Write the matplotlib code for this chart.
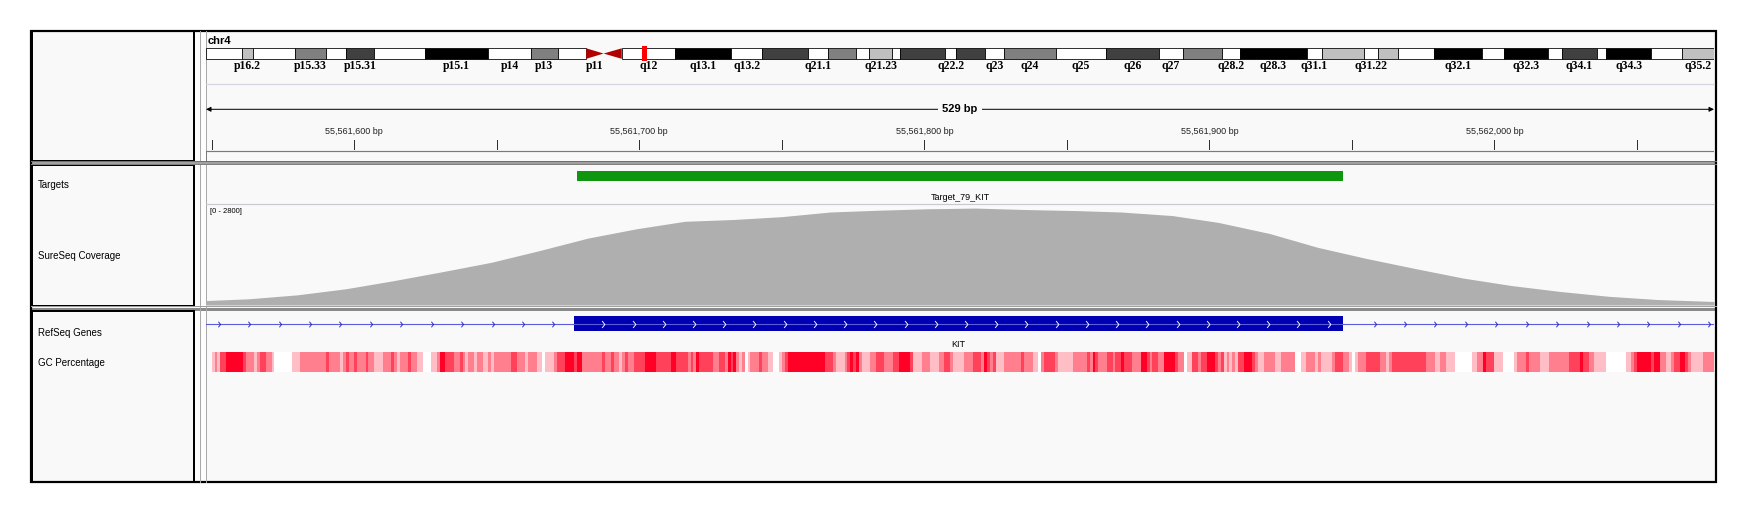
import matplotlib
matplotlib.use('Agg')
import matplotlib.pyplot as plt
from matplotlib.patches import Rectangle, Polygon
from matplotlib.path import Path
import numpy as np

plt.rcParams['font.family'] = ['Liberation Sans', 'DejaVu Sans']

W, H = 1751, 513
PX = 0.72          # one pixel in points at dpi 100
DX0, DX1 = 206, 1714   # data panel, pixels

# ---- data -------------------------------------------------------------
chrom = 'chr4'
chrom_length = 191.154276   # Mb (hg19)
view_start = 55561548
view_end = 55562077

band_names = ['p16.3', 'p16.2', 'p16.1', 'p15.33', 'p15.32', 'p15.31', 'p15.2', 'p15.1',
              'p14', 'p13', 'p12', 'p11', 'q11', 'q12', 'q13.1', 'q13.2', 'q13.3', 'q21.1',
              'q21.21', 'q21.22', 'q21.23', 'q21.3', 'q22.1', 'q22.2', 'q22.3', 'q23', 'q24',
              'q25', 'q26', 'q27', 'q28.1', 'q28.2', 'q28.3', 'q31.1', 'q31.21', 'q31.22',
              'q31.23', 'q31.3', 'q32.1', 'q32.2', 'q32.3', 'q33', 'q34.1', 'q34.2', 'q34.3',
              'q35.1', 'q35.2']
band_starts = [0.0, 4.5, 6.0, 11.3, 15.2, 17.8, 21.3, 27.7, 35.8, 41.2, 44.6, 48.2, 50.4,
               52.7, 59.5, 66.6, 70.5, 76.3, 78.9, 82.4, 84.1, 86.9, 88.0, 93.7, 95.1, 98.8,
               101.1, 107.7, 114.1, 120.8, 123.8, 128.8, 131.1, 139.5, 141.5, 146.8, 148.5,
               151.1, 155.6, 161.8, 164.5, 170.1, 171.9, 176.3, 177.5, 183.2, 187.1]
band_stains = ['gneg', 'gpos25', 'gneg', 'gpos50', 'gneg', 'gpos75', 'gneg', 'gpos100',
               'gneg', 'gpos50', 'gneg', 'acen', 'acen', 'gneg', 'gpos100', 'gneg', 'gpos75',
               'gneg', 'gpos50', 'gneg', 'gpos25', 'gneg', 'gpos75', 'gneg', 'gpos75', 'gneg',
               'gpos50', 'gneg', 'gpos75', 'gneg', 'gpos50', 'gneg', 'gpos100', 'gneg',
               'gpos25', 'gneg', 'gpos25', 'gneg', 'gpos100', 'gneg', 'gpos100', 'gneg',
               'gpos75', 'gneg', 'gpos100', 'gneg', 'gpos25']
shown_bands = ['p16.2', 'p15.33', 'p15.31', 'p15.1', 'p14', 'p13', 'p11', 'q12', 'q13.1',
               'q13.2', 'q21.1', 'q21.23', 'q22.2', 'q23', 'q24', 'q25', 'q26', 'q27', 'q28.2',
               'q28.3', 'q31.1', 'q31.22', 'q32.1', 'q32.3', 'q34.1', 'q34.3', 'q35.2']

track_names = ['Targets', 'SureSeq Coverage', 'RefSeq Genes', 'GC Percentage']

target_name = 'Target_79_KIT'
target_start, target_end = 55561678, 55561947

gene_name = 'KIT'
exon_start, exon_end = 55561677, 55561947

coverage_max = 2800
coverage_offsets = [0, 15, 32, 49, 66, 83, 100, 117, 134, 151, 168, 185, 202, 219, 236, 253,
                    270, 287, 305, 321, 339, 355, 373, 390, 407, 424, 441, 458, 475, 492, 509, 529]
coverage_values = [110, 160, 270, 440, 670, 920, 1180, 1510, 1860, 2120, 2330, 2380, 2460,
                   2590, 2640, 2680, 2700, 2660, 2630, 2590, 2490, 2300, 1990, 1600, 1290,
                   1010, 740, 530, 365, 230, 140, 84]

# GC percentage bins: start offset from view_start, shade level (0 = no value)
gc_offsets = [2, 3, 4, 5, 7, 13, 14, 17, 18, 19, 21, 23, 24, 30, 33, 42, 43, 47, 48, 49, 50,
              52, 53, 56, 57, 59, 62, 65, 66, 67, 68, 71, 72, 74, 76, 79, 81, 82, 84, 87, 89,
              90, 91, 92, 94, 95, 97, 99, 100, 101, 107, 109, 112, 113, 116, 118, 119, 122,
              123, 126, 129, 130, 132, 139, 140, 142, 143, 145, 146, 147, 148, 150, 154, 158,
              163, 165, 169, 170, 171, 172, 173,
              178, 180, 182, 183, 184, 185, 186, 187, 188, 189, 190, 191, 194, 195, 197, 199,
              201, 202, 203, 204, 217, 220, 221, 224, 225, 226, 227, 228, 229, 230, 233, 235,
              238, 241, 243, 247, 248, 251, 254, 257, 259, 261, 262, 266, 269, 272, 273, 274,
              275, 276, 277, 280, 286, 287, 290, 292, 293, 294, 298, 299, 304, 309, 310, 311,
              312, 313, 316, 318, 319, 321, 322, 325, 328, 330, 331, 332, 334, 336, 340, 341,
              343, 344, 346, 348, 349, 351,
              354, 355, 356, 357, 358, 359, 360, 361, 362, 364, 367, 368, 369, 371, 375, 377,
              382, 384, 386, 389, 390, 391, 395, 396, 399, 401, 402, 403, 404, 407, 412, 414,
              415, 416, 428, 431, 433, 435, 438, 444, 446, 448, 449, 452, 455, 459, 460, 463,
              464, 468, 471, 478, 482, 483, 485, 487, 491, 498, 500, 501, 502, 507, 508, 510,
              512, 514, 515, 517, 519, 520, 521, 525, 529]
gc_levels = [1, 2, 1, 3, 4, 3, 2, 1, 2, 3, 2, 1, 0, 1, 2, 3, 2, 1, 2, 3, 2,
             3, 2, 3, 2, 1, 2, 3, 2, 1, 2, 3, 2, 1, 0, 1, 2, 4, 3, 2, 3,
             2, 1, 2, 1, 2, 1, 2, 1, 2, 3, 2, 1, 2, 1, 0, 1, 2,
             3, 4, 3, 4, 2, 3, 2, 3, 2, 1, 2, 3, 2, 3, 4, 3,
             4, 3, 2, 3, 2, 4, 3,
             2, 3, 2, 4, 3, 4, 2, 1, 2, 0, 1, 2, 3, 2, 1, 0,
             1, 2, 3, 4, 3, 2, 1, 2, 3, 4, 3, 4, 2, 1, 2, 3,
             2, 3, 4, 3, 1, 2, 1, 2, 3, 2, 1, 2, 3, 2, 4, 3,
             2, 3, 1, 2, 3, 2, 1, 0, 2, 3, 2, 1, 2, 3, 2, 4,
             3, 2, 3, 2, 3, 4, 3, 2, 4, 3, 2, 3, 2, 4, 3, 2,
             0, 1, 3, 2, 3, 4,
             3, 2, 3, 1, 2, 1, 2, 1, 3, 4, 3, 2, 1, 2, 1, 2,
             0, 1, 2, 1, 2, 1, 2, 3, 2, 1, 0, 1, 2, 3, 2, 1,
             2, 3, 2, 1, 2, 1, 0, 1, 2, 4, 3, 1, 0, 1, 2, 3,
             2, 1, 2, 3, 4, 3, 2, 1, 0, 1, 2, 3, 4, 3, 4, 2,
             1, 2, 3, 4, 3, 2, 1, 2]

# ---- styles -----------------------------------------------------------
stain_colors = {'gneg': '#FFFFFF', 'gpos25': '#C0C0C0', 'gpos50': '#808080',
                'gpos75': '#404040', 'gpos100': '#000000', 'acen': '#B00000'}
gc_colors = ['#FFFFFF', '#FFBDC6', '#FF7F8F', '#FF4259', '#FF0026']
panel_bg = '#F9F9F9'

fig = plt.figure(figsize=(W / 100, H / 100), dpi=100)
fig.patch.set_facecolor('white')
base = fig.add_axes([0, 0, 1, 1])
base.set_xlim(0, W)
base.set_ylim(H, 0)
base.axis('off')


def strip(y0, y1, xlim, ylim=None):
    ax = fig.add_axes([DX0 / W, 1 - y1 / H, (DX1 - DX0) / W, (y1 - y0) / H])
    ax.set_xlim(*xlim)
    ax.set_ylim(ylim if ylim is not None else (y1, y0))
    ax.axis('off')
    return ax


# frame, panels, dividers
base.add_patch(Rectangle((31, 31), 1685, 450.5, fc=panel_bg, ec='none'))
base.add_patch(Rectangle((194, 31), 12, 450.5, fc='#FDFDFD', ec='none'))
base.plot([200, 200], [31, 481.5], color='#A8A8A8', lw=PX)
base.plot([DX0, DX0], [31, 481.5], color='#A8A8A8', lw=PX)
base.add_patch(Rectangle((31, 160.5), 1685, 4, fc='#A0A0A0', ec='none'))
base.plot([31, 1716], [161, 161], color='#707070', lw=PX)
base.plot([31, 1716], [164, 164], color='#808080', lw=PX)
base.plot([31, 1716], [305.8, 305.8], color='#A0A0A0', lw=PX)
base.add_patch(Rectangle((31, 308.3), 1685, 2.2, fc='#8A8A8A', ec='none'))
for y0, y1 in [(31, 160.5), (164.5, 305.8), (310.5, 481.5)]:
    base.add_patch(Rectangle((31.5, y0), 162.5, y1 - y0, fill=False, ec='black', lw=2 * PX))
base.add_patch(Rectangle((31, 31), 1685, 450.5, fill=False, ec='black', lw=2.2 * PX))

# track names
name_y = [184.5, 256, 333, 363]
for name, y in zip(track_names, name_y):
    base.text(37.5, y, name, fontsize=7, va='center', ha='left', color='black')

# ---- ruler: ideogram ----------------------------------------------------
base.text(208, 40.5, chrom, fontsize=8, fontweight='bold', va='center', ha='left')

band_ends = band_starts[1:] + [chrom_length]
ideo = strip(44, 73, (0, chrom_length))
top, bot = 48.3, 58.8
mid = (top + bot) / 2
for name, s, e, st in zip(band_names, band_starts, band_ends, band_stains):
    if st == 'acen':
        if name.startswith('p'):
            tri = [(s, top), (s, bot), (e, mid)]
        else:
            tri = [(e, top), (e, bot), (s, mid)]
        ideo.add_patch(Polygon(tri, closed=True, fc=stain_colors[st], ec='none'))
    else:
        ideo.add_patch(Rectangle((s, top), e - s, bot - top, fc=stain_colors[st],
                                 ec='black', lw=0.8 * PX))
    if name in shown_bands:
        ideo.text((s + e) / 2, 65.6, name, fontsize=8.5, fontweight='bold',
                  family='Liberation Serif', ha='center', va='center')
# current locus marker
mb_per_px = chrom_length / (DX1 - DX0)
loc = (view_start + view_end) / 2 / 1e6
ideo.add_patch(Rectangle((loc - 2.2 * mb_per_px, 46), 4.4 * mb_per_px, 14.7,
                         fc='#FF0000', ec='none'))

base.plot([DX0, DX1], [83.5, 83.5], color='#D4D4E2', lw=1.2 * PX)

# ---- ruler: scale -------------------------------------------------------
ruler = strip(95, 161, (view_start, view_end))
centre = (view_start + view_end) / 2
for end in (view_start, view_end):
    ruler.annotate('', xy=(end, 109.3), xytext=(centre, 109.3),
                   arrowprops=dict(arrowstyle='-|>', color='black', lw=PX,
                                   mutation_scale=7, shrinkA=0, shrinkB=0))
ruler.text(centre, 109.3, f'{view_end - view_start} bp', fontsize=8, fontweight='bold',
           ha='center', va='center',
           bbox=dict(boxstyle='square,pad=0.35', fc=panel_bg, ec='none'))

ticks = np.arange(55561550, view_end, 50)
for t in ticks:
    ruler.plot([t, t], [140, 149.3], color='#303030', lw=PX)
    if t % 100 == 0:
        ruler.text(t, 132, f'{t:,} bp', fontsize=6.5, ha='center', va='center', color='#222222')
ruler.plot([view_start, view_end], [150.8, 150.8], color='#7A7A7A', lw=1.2 * PX)
ruler.plot([view_start + 0.1, view_start + 0.1], [151, 160], color='#7A7A7A', lw=PX)

# ---- targets ------------------------------------------------------------
tgt = strip(164.5, 204.5, (view_start, view_end))
tgt.add_patch(Rectangle((target_start, 170.8), target_end - target_start, 9.9,
                        fc='#0F960F', ec='none'))
tgt.text((target_start + target_end) / 2, 197.6, target_name, fontsize=6.5,
         ha='center', va='center')
base.plot([DX0, DX1], [204.3, 204.3], color='#C9C9D6', lw=1.2 * PX)

# ---- coverage -----------------------------------------------------------
cov = strip(204.5, 304.5, (view_start, view_end), (0, coverage_max))
cov_x = view_start + np.array(coverage_offsets)
cov.fill_between(cov_x, 0, coverage_values, color='#AFAFAF', lw=0)
base.text(210, 211.7, f'[0 - {coverage_max}]', fontsize=5.5, ha='left', va='center')
base.plot([DX0, DX1], [305, 305], color='#D2D2D2', lw=PX)

# ---- genes --------------------------------------------------------------
low = strip(310.5, 481.5, (view_start, view_end))
gy = 323.6
intron_col = '#5B5BE0'
low.plot([view_start, view_end], [gy, gy], color=intron_col, lw=1.1 * PX)
chev = Path([(-0.4, 1), (0.4, 0), (-0.4, -1)], [Path.MOVETO, Path.LINETO, Path.LINETO])
arrows = np.arange(view_start + 4.5, view_end, 10.67)
arrows = arrows[(arrows < exon_start - 1) | (arrows > exon_end + 1)]
low.plot(arrows, np.full(len(arrows), gy), ls='none', marker=chev, ms=4,
         mfc='none', mec='#2020C8', mew=0.9 * PX)
low.add_patch(Rectangle((exon_start, 316.2), exon_end - exon_start, 14.6,
                        fc='#0000B2', ec='none'))
inner = np.arange(exon_start + 10.4, exon_end - 2, 10.6)
low.plot(inner, np.full(len(inner), gy), ls='none', marker=chev, ms=5,
         mfc='none', mec='white', mew=0.9 * PX)
low.text((exon_start + exon_end) / 2, 344, gene_name, fontsize=6.5, ha='center', va='center')

# ---- GC percentage ------------------------------------------------------
gc_start = view_start + np.array(gc_offsets[:-1])
gc_width = np.diff(gc_offsets)
low.bar(gc_start, 20, width=gc_width, bottom=351.7, align='edge',
        color=[gc_colors[g] for g in gc_levels], lw=0)

fig.savefig('out.png', dpi=100, facecolor='white')
